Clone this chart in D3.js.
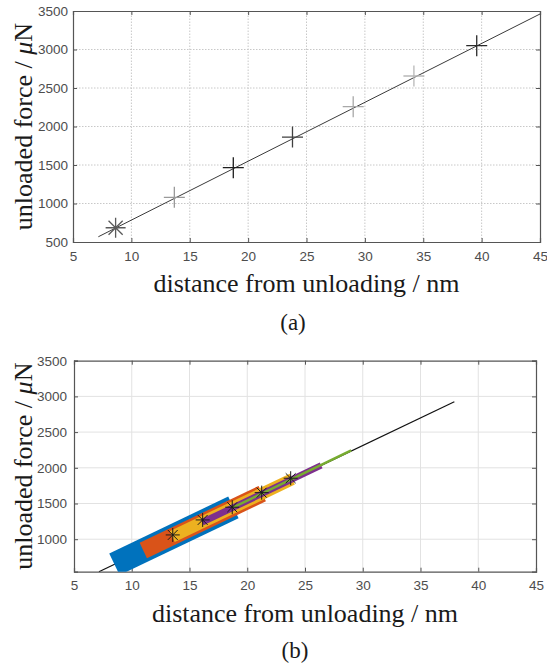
<!DOCTYPE html>
<html>
<head>
<meta charset="utf-8">
<script src="https://cdn.jsdelivr.net/npm/d3@7"></script>
<style>
  body { margin: 0; background: #fff; }
  .tick text { font-family: "Liberation Sans", Arial, sans-serif; font-size: 13.5px; fill: #4d4d4d; }
</style>
</head>
<body>
<script>
// x ticks shared by both panels
var xTicks = [5, 10, 15, 20, 25, 30, 35, 40, 45];
var yTicksA = [500, 1000, 1500, 2000, 2500, 3000, 3500];
var yTicksB = [1000, 1500, 2000, 2500, 3000, 3500];

// (a) measured points and fitted line
var pointX = [8.65, 13.68, 18.73, 23.8, 29.0, 34.2, 39.58];
var pointY = [685, 1080, 1465, 1863, 2257, 2656, 3050];
var pointShade = ["#5a5a5a", "#9a9a9a", "#1e1e1e", "#404040", "#a8a8a8", "#b8b8b8", "#2a2a2a"];
var fitX = [7.17, 45];
var fitY = [568, 3461];

// (b) fitted line, sliding windows and window centres
var fitX2 = [7.16, 37.93];
var fitY2 = [545, 2926];
var winX0 = [8.5, 11.0, 13.5, 16.1, 18.7];
var winX1 = [18.8, 21.3, 23.9, 26.4, 29.0];
var winY0 = [649, 842, 1036, 1237, 1438];
var winY1 = [1446, 1639, 1841, 2034, 2245];
var winColor = ["#0072BD", "#D95319", "#EDB120", "#7E2F8E", "#77AC30"];
var winWidth = [24, 17, 12, 6.5, 2.5];
var centreX = [13.55, 16.14, 18.7, 21.25, 23.76];
var centreY = [1060, 1270, 1448, 1652, 1854];

var width = 547, height = 663;
var serif = "'Liberation Serif', 'Times New Roman', 'DejaVu Serif', serif";

var svg = d3.select("body")
    .append("svg")
    .attr("width", width)
    .attr("height", height);

function star(s) {
    var d = s * Math.SQRT1_2;
    return "M" + (-s) + ",0L" + s + ",0M0," + (-s) + "L0," + s +
           "M" + (-d) + "," + (-d) + "L" + d + "," + d +
           "M" + (-d) + "," + d + "L" + d + "," + (-d);
}
function plus(s) {
    return "M" + (-s) + ",0L" + s + ",0M0," + (-s) + "L0," + s;
}

function frame(g, x, y, yTicks, dotted, yPad) {
    var x0 = x.range()[0], x1 = x.range()[1];
    var y0 = y.range()[0], y1 = y.range()[1];

    // grid
    var grid = g.append("g").attr("class", "grid");
    grid.selectAll("line.gx")
      .data(xTicks.slice(1, -1))
      .enter().append("line")
        .attr("x1", function(d) { return x(d); })
        .attr("x2", function(d) { return x(d); })
        .attr("y1", y0).attr("y2", y1);
    grid.selectAll("line.gy")
      .data(yTicks.filter(function(d) { return y(d) < y0 - 1 && y(d) > y1 + 1; }))
      .enter().append("line")
        .attr("x1", x0).attr("x2", x1)
        .attr("y1", function(d) { return y(d); })
        .attr("y2", function(d) { return y(d); });
    grid.selectAll("line")
        .attr("stroke", dotted ? "#c8c8c8" : "#e2e2e2")
        .attr("stroke-width", 1)
        .attr("stroke-dasharray", dotted ? "1.5,1.5" : null);

    var fmt = d3.format("d");
    var ax = [];
    ax.push(g.append("g").attr("transform", "translate(0," + y0 + ")")
        .call(d3.axisBottom(x).tickValues(xTicks).tickSize(-4).tickPadding(9).tickFormat(fmt)));
    ax.push(g.append("g").attr("transform", "translate(0," + y1 + ")")
        .call(d3.axisTop(x).tickValues(xTicks).tickSize(-4).tickFormat("")));
    ax.push(g.append("g").attr("transform", "translate(" + x0 + ",0)")
        .call(d3.axisLeft(y).tickValues(yTicks).tickSize(-4).tickPadding(yPad).tickFormat(fmt)));
    ax.push(g.append("g").attr("transform", "translate(" + x1 + ",0)")
        .call(d3.axisRight(y).tickValues(yTicks).tickSize(-4).tickFormat("")));
    ax.forEach(function(a) {
        a.select(".domain").attr("stroke", "#555").attr("stroke-width", 1.2);
        a.selectAll(".tick line").attr("stroke", "#555");
    });
}

function labels(g, x, y, cap, capX, capY) {
    var cx = (x.range()[0] + x.range()[1]) / 2;
    var cy = (y.range()[0] + y.range()[1]) / 2;
    g.append("text")
        .attr("font-family", serif)
        .attr("font-size", 26)
        .attr("fill", "#1a1a1a")
        .attr("x", cx)
        .attr("y", y.range()[0] + 50)
        .attr("text-anchor", "middle")
        .text("distance from unloading / nm");
    var yl = g.append("text")
        .attr("font-family", serif)
        .attr("font-size", 26)
        .attr("fill", "#1a1a1a")
        .attr("text-anchor", "middle")
        .attr("transform", "translate(32," + cy + ") rotate(-90)");
    yl.append("tspan").text("unloaded force / ");
    yl.append("tspan").attr("font-style", "italic").text("\u03bc");
    yl.append("tspan").text("N");
    g.append("text")
        .attr("font-family", serif)
        .attr("font-size", 23)
        .attr("fill", "#1a1a1a")
        .attr("x", capX)
        .attr("y", capY)
        .attr("text-anchor", "middle")
        .text(cap);
}

// ---- panel (a)
var xa = d3.scaleLinear().domain([5, 45]).range([73, 540]);
var ya = d3.scaleLinear().domain([500, 3500]).range([242, 11]);
var ga = svg.append("g");
frame(ga, xa, ya, yTicksA, true, 5);

var line = d3.line()
    .x(function(d) { return d[0]; })
    .y(function(d) { return d[1]; });

ga.append("path")
    .datum(fitX.map(function(d, i) { return [xa(d), ya(fitY[i])]; }))
    .attr("d", line)
    .attr("fill", "none")
    .attr("stroke", "#3a3a3a")
    .attr("stroke-width", 1);

ga.selectAll("path.pt")
  .data(pointX)
  .enter().append("path")
    .attr("class", "pt")
    .attr("transform", function(d, i) { return "translate(" + xa(d) + "," + ya(pointY[i]) + ")"; })
    .attr("d", function(d, i) { return i == 0 ? star(10) : plus(10.5); })
    .attr("stroke", function(d, i) { return pointShade[i]; })
    .attr("stroke-width", 1.3)
    .attr("fill", "none");

labels(ga, xa, ya, "(a)", 293, 330);

// ---- panel (b)
var xb = d3.scaleLinear().domain([5, 45]).range([74, 536]);
var yb = d3.scaleLinear().domain([545, 3500]).range([571.7, 360.7]);
var gb = svg.append("g");
frame(gb, xb, yb, yTicksB, false, 7);

svg.append("clipPath")
    .attr("id", "clipb")
  .append("rect")
    .attr("x", 74).attr("y", 360.7)
    .attr("width", 462).attr("height", 211);

var plot = gb.append("g").attr("clip-path", "url(#clipb)");

plot.append("path")
    .datum(fitX2.map(function(d, i) { return [xb(d), yb(fitY2[i])]; }))
    .attr("d", line)
    .attr("fill", "none")
    .attr("stroke", "#111")
    .attr("stroke-width", 1.2);

plot.selectAll("line.win")
  .data(winX0)
  .enter().append("line")
    .attr("class", "win")
    .attr("x1", function(d) { return xb(d); })
    .attr("y1", function(d, i) { return yb(winY0[i]); })
    .attr("x2", function(d, i) { return xb(winX1[i]); })
    .attr("y2", function(d, i) { return yb(winY1[i]); })
    .attr("stroke", function(d, i) { return winColor[i]; })
    .attr("stroke-width", function(d, i) { return winWidth[i]; })
    .attr("stroke-linecap", "butt");

plot.selectAll("path.ctr")
  .data(centreX)
  .enter().append("path")
    .attr("class", "ctr")
    .attr("transform", function(d, i) { return "translate(" + xb(d) + "," + yb(centreY[i]) + ")"; })
    .attr("d", star(7))
    .attr("stroke", "#1a1a1a")
    .attr("stroke-width", 1)
    .attr("fill", "none");

labels(gb, xb, yb, "(b)", 295, 658);
</script>
</body>
</html>
